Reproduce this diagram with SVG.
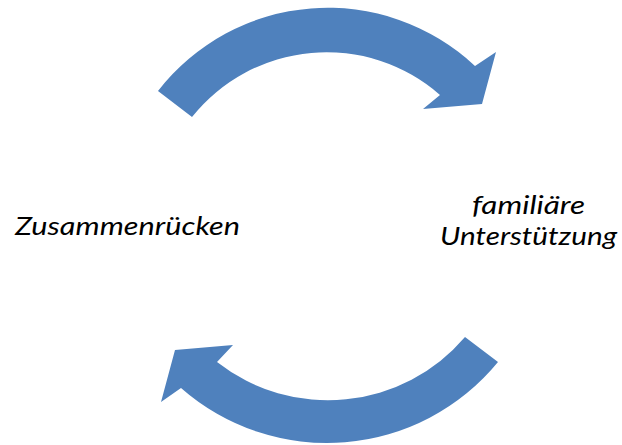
<svg xmlns="http://www.w3.org/2000/svg" width="622" height="445" viewBox="0 0 622 445">
  <style>
    .arrow { fill: #4F81BD; stroke: none; }
    .lbl { font-family: Lato, "Open Sans", sans-serif; font-style: italic; font-size: 25.5px; fill: #000; }
  </style>
  <rect width="622" height="445" fill="#fff"/>
  <g id="connectors">
    <path id="arrow-top" class="arrow" d="M158,91 A215,215 0 0 1 475,66 L496,52 L482,104 L423,109 L440,95 A172,172 0 0 0 192,117 Z"/>
    <path id="arrow-bottom" class="arrow" d="M498,362 A221,221 0 0 1 181,388 L161,402 L175,350 L233,345 L217,362 A180,180 0 0 0 465,337 Z"/>
  </g>
  <g id="node-zusammenruecken">
    <text class="lbl" x="15" y="235" textLength="225" lengthAdjust="spacingAndGlyphs">Zusammenrücken</text>
  </g>
  <g id="node-familiaere-unterstuetzung">
    <text class="lbl" x="472" y="214" textLength="113" lengthAdjust="spacingAndGlyphs">familiäre</text>
    <text class="lbl" x="440" y="245" textLength="177" lengthAdjust="spacingAndGlyphs">Unterstützung</text>
  </g>
</svg>
